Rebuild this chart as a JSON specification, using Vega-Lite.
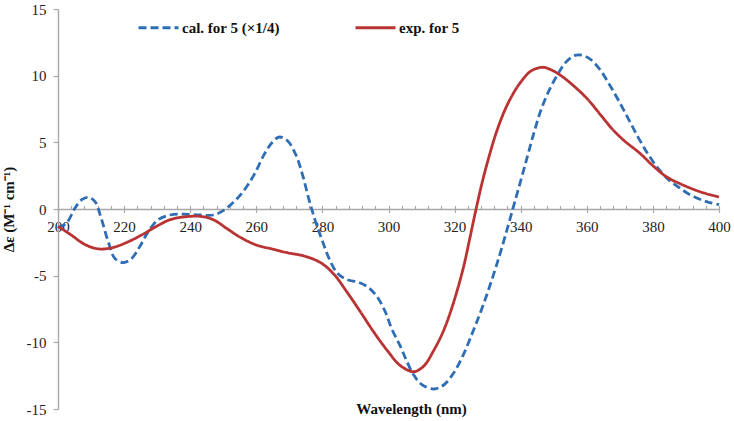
{
  "$schema": "https://vega.github.io/schema/vega-lite/v6.json",
  "description": "CD spectra, calculated and experimental",
  "width": 661,
  "height": 400,
  "autosize": {"type": "none"},
  "padding": {"left": 58, "top": 9, "right": 15, "bottom": 12},
  "background": "white",
  "config": {"view": {"stroke": null}},
  "datasets": {
    "spectra": [
      {"wavelength": 200, "delta": -1.4, "series": "cal. for 5 (×1/4)"},
      {"wavelength": 202.6, "delta": -1.05, "series": "cal. for 5 (×1/4)"},
      {"wavelength": 205.1, "delta": 0.05, "series": "cal. for 5 (×1/4)"},
      {"wavelength": 207.2, "delta": 0.7, "series": "cal. for 5 (×1/4)"},
      {"wavelength": 209.2, "delta": 0.87, "series": "cal. for 5 (×1/4)"},
      {"wavelength": 211.2, "delta": 0.55, "series": "cal. for 5 (×1/4)"},
      {"wavelength": 213.2, "delta": -0.8, "series": "cal. for 5 (×1/4)"},
      {"wavelength": 215.2, "delta": -2.45, "series": "cal. for 5 (×1/4)"},
      {"wavelength": 217.2, "delta": -3.7, "series": "cal. for 5 (×1/4)"},
      {"wavelength": 219.8, "delta": -4.02, "series": "cal. for 5 (×1/4)"},
      {"wavelength": 222.3, "delta": -3.7, "series": "cal. for 5 (×1/4)"},
      {"wavelength": 224.8, "delta": -2.8, "series": "cal. for 5 (×1/4)"},
      {"wavelength": 227.3, "delta": -1.7, "series": "cal. for 5 (×1/4)"},
      {"wavelength": 230.3, "delta": -0.8, "series": "cal. for 5 (×1/4)"},
      {"wavelength": 233.9, "delta": -0.45, "series": "cal. for 5 (×1/4)"},
      {"wavelength": 237.9, "delta": -0.38, "series": "cal. for 5 (×1/4)"},
      {"wavelength": 243, "delta": -0.45, "series": "cal. for 5 (×1/4)"},
      {"wavelength": 247, "delta": -0.45, "series": "cal. for 5 (×1/4)"},
      {"wavelength": 250, "delta": -0.12, "series": "cal. for 5 (×1/4)"},
      {"wavelength": 253, "delta": 0.48, "series": "cal. for 5 (×1/4)"},
      {"wavelength": 256, "delta": 1.3, "series": "cal. for 5 (×1/4)"},
      {"wavelength": 259.4, "delta": 2.6, "series": "cal. for 5 (×1/4)"},
      {"wavelength": 262.4, "delta": 4.1, "series": "cal. for 5 (×1/4)"},
      {"wavelength": 265, "delta": 5.05, "series": "cal. for 5 (×1/4)"},
      {"wavelength": 267, "delta": 5.4, "series": "cal. for 5 (×1/4)"},
      {"wavelength": 269.5, "delta": 5.1, "series": "cal. for 5 (×1/4)"},
      {"wavelength": 272, "delta": 4.05, "series": "cal. for 5 (×1/4)"},
      {"wavelength": 274, "delta": 2.55, "series": "cal. for 5 (×1/4)"},
      {"wavelength": 276, "delta": 0.65, "series": "cal. for 5 (×1/4)"},
      {"wavelength": 278, "delta": -1.0, "series": "cal. for 5 (×1/4)"},
      {"wavelength": 280, "delta": -2.4, "series": "cal. for 5 (×1/4)"},
      {"wavelength": 282, "delta": -3.7, "series": "cal. for 5 (×1/4)"},
      {"wavelength": 284.5, "delta": -4.8, "series": "cal. for 5 (×1/4)"},
      {"wavelength": 287.5, "delta": -5.3, "series": "cal. for 5 (×1/4)"},
      {"wavelength": 291, "delta": -5.5, "series": "cal. for 5 (×1/4)"},
      {"wavelength": 294, "delta": -5.9, "series": "cal. for 5 (×1/4)"},
      {"wavelength": 296.6, "delta": -6.6, "series": "cal. for 5 (×1/4)"},
      {"wavelength": 299, "delta": -7.7, "series": "cal. for 5 (×1/4)"},
      {"wavelength": 301, "delta": -9, "series": "cal. for 5 (×1/4)"},
      {"wavelength": 303.5, "delta": -10.25, "series": "cal. for 5 (×1/4)"},
      {"wavelength": 305.5, "delta": -11.4, "series": "cal. for 5 (×1/4)"},
      {"wavelength": 307.5, "delta": -12.4, "series": "cal. for 5 (×1/4)"},
      {"wavelength": 310, "delta": -13.15, "series": "cal. for 5 (×1/4)"},
      {"wavelength": 313.7, "delta": -13.5, "series": "cal. for 5 (×1/4)"},
      {"wavelength": 316.7, "delta": -13.2, "series": "cal. for 5 (×1/4)"},
      {"wavelength": 319.7, "delta": -12.3, "series": "cal. for 5 (×1/4)"},
      {"wavelength": 322.7, "delta": -10.9, "series": "cal. for 5 (×1/4)"},
      {"wavelength": 325.7, "delta": -9.1, "series": "cal. for 5 (×1/4)"},
      {"wavelength": 328.8, "delta": -7.1, "series": "cal. for 5 (×1/4)"},
      {"wavelength": 331.8, "delta": -4.9, "series": "cal. for 5 (×1/4)"},
      {"wavelength": 334.3, "delta": -2.9, "series": "cal. for 5 (×1/4)"},
      {"wavelength": 337.6, "delta": 0, "series": "cal. for 5 (×1/4)"},
      {"wavelength": 340.1, "delta": 2.2, "series": "cal. for 5 (×1/4)"},
      {"wavelength": 342.1, "delta": 4.0, "series": "cal. for 5 (×1/4)"},
      {"wavelength": 344.1, "delta": 5.8, "series": "cal. for 5 (×1/4)"},
      {"wavelength": 346.1, "delta": 7.4, "series": "cal. for 5 (×1/4)"},
      {"wavelength": 348.6, "delta": 8.9, "series": "cal. for 5 (×1/4)"},
      {"wavelength": 351.1, "delta": 10.05, "series": "cal. for 5 (×1/4)"},
      {"wavelength": 353.6, "delta": 11.0, "series": "cal. for 5 (×1/4)"},
      {"wavelength": 356.2, "delta": 11.5, "series": "cal. for 5 (×1/4)"},
      {"wavelength": 358.2, "delta": 11.55, "series": "cal. for 5 (×1/4)"},
      {"wavelength": 360.7, "delta": 11.3, "series": "cal. for 5 (×1/4)"},
      {"wavelength": 363.7, "delta": 10.55, "series": "cal. for 5 (×1/4)"},
      {"wavelength": 366.7, "delta": 9.4, "series": "cal. for 5 (×1/4)"},
      {"wavelength": 369.7, "delta": 8.1, "series": "cal. for 5 (×1/4)"},
      {"wavelength": 372.7, "delta": 6.7, "series": "cal. for 5 (×1/4)"},
      {"wavelength": 375.7, "delta": 5.3, "series": "cal. for 5 (×1/4)"},
      {"wavelength": 378.7, "delta": 4.05, "series": "cal. for 5 (×1/4)"},
      {"wavelength": 381.7, "delta": 3.0, "series": "cal. for 5 (×1/4)"},
      {"wavelength": 384.7, "delta": 2.2, "series": "cal. for 5 (×1/4)"},
      {"wavelength": 387.7, "delta": 1.65, "series": "cal. for 5 (×1/4)"},
      {"wavelength": 390.7, "delta": 1.15, "series": "cal. for 5 (×1/4)"},
      {"wavelength": 394.2, "delta": 0.73, "series": "cal. for 5 (×1/4)"},
      {"wavelength": 397.2, "delta": 0.48, "series": "cal. for 5 (×1/4)"},
      {"wavelength": 400, "delta": 0.33, "series": "cal. for 5 (×1/4)"},
      {"wavelength": 200, "delta": -1.3, "series": "exp. for 5"},
      {"wavelength": 204, "delta": -1.95, "series": "exp. for 5"},
      {"wavelength": 207.7, "delta": -2.6, "series": "exp. for 5"},
      {"wavelength": 211.2, "delta": -2.95, "series": "exp. for 5"},
      {"wavelength": 213.7, "delta": -3, "series": "exp. for 5"},
      {"wavelength": 217.2, "delta": -2.85, "series": "exp. for 5"},
      {"wavelength": 221.3, "delta": -2.45, "series": "exp. for 5"},
      {"wavelength": 225.3, "delta": -1.95, "series": "exp. for 5"},
      {"wavelength": 229.8, "delta": -1.3, "series": "exp. for 5"},
      {"wavelength": 233.9, "delta": -0.8, "series": "exp. for 5"},
      {"wavelength": 237.9, "delta": -0.6, "series": "exp. for 5"},
      {"wavelength": 243, "delta": -0.55, "series": "exp. for 5"},
      {"wavelength": 247, "delta": -0.8, "series": "exp. for 5"},
      {"wavelength": 251, "delta": -1.45, "series": "exp. for 5"},
      {"wavelength": 255, "delta": -2.1, "series": "exp. for 5"},
      {"wavelength": 260, "delta": -2.7, "series": "exp. for 5"},
      {"wavelength": 264.8, "delta": -3, "series": "exp. for 5"},
      {"wavelength": 269.4, "delta": -3.28, "series": "exp. for 5"},
      {"wavelength": 274.5, "delta": -3.53, "series": "exp. for 5"},
      {"wavelength": 279.5, "delta": -4.03, "series": "exp. for 5"},
      {"wavelength": 283.5, "delta": -4.9, "series": "exp. for 5"},
      {"wavelength": 287.5, "delta": -6.25, "series": "exp. for 5"},
      {"wavelength": 291.6, "delta": -7.75, "series": "exp. for 5"},
      {"wavelength": 295.6, "delta": -9.25, "series": "exp. for 5"},
      {"wavelength": 299.6, "delta": -10.6, "series": "exp. for 5"},
      {"wavelength": 303.6, "delta": -11.75, "series": "exp. for 5"},
      {"wavelength": 307.6, "delta": -12.2, "series": "exp. for 5"},
      {"wavelength": 310.6, "delta": -11.8, "series": "exp. for 5"},
      {"wavelength": 313.7, "delta": -10.6, "series": "exp. for 5"},
      {"wavelength": 316.7, "delta": -9.1, "series": "exp. for 5"},
      {"wavelength": 319.7, "delta": -7.0, "series": "exp. for 5"},
      {"wavelength": 322.7, "delta": -4.35, "series": "exp. for 5"},
      {"wavelength": 324.6, "delta": -2.2, "series": "exp. for 5"},
      {"wavelength": 326.5, "delta": 0, "series": "exp. for 5"},
      {"wavelength": 328.5, "delta": 2.15, "series": "exp. for 5"},
      {"wavelength": 330.5, "delta": 4, "series": "exp. for 5"},
      {"wavelength": 332.5, "delta": 5.65, "series": "exp. for 5"},
      {"wavelength": 335, "delta": 7.3, "series": "exp. for 5"},
      {"wavelength": 337.6, "delta": 8.6, "series": "exp. for 5"},
      {"wavelength": 340.1, "delta": 9.55, "series": "exp. for 5"},
      {"wavelength": 343.1, "delta": 10.35, "series": "exp. for 5"},
      {"wavelength": 346.6, "delta": 10.63, "series": "exp. for 5"},
      {"wavelength": 349.1, "delta": 10.45, "series": "exp. for 5"},
      {"wavelength": 352.2, "delta": 10, "series": "exp. for 5"},
      {"wavelength": 356.2, "delta": 9.2, "series": "exp. for 5"},
      {"wavelength": 360.2, "delta": 8.25, "series": "exp. for 5"},
      {"wavelength": 364.2, "delta": 7.05, "series": "exp. for 5"},
      {"wavelength": 367.7, "delta": 6.0, "series": "exp. for 5"},
      {"wavelength": 371.2, "delta": 5.15, "series": "exp. for 5"},
      {"wavelength": 376.2, "delta": 4.15, "series": "exp. for 5"},
      {"wavelength": 380.2, "delta": 3.2, "series": "exp. for 5"},
      {"wavelength": 384.2, "delta": 2.4, "series": "exp. for 5"},
      {"wavelength": 388.2, "delta": 1.9, "series": "exp. for 5"},
      {"wavelength": 394.2, "delta": 1.3, "series": "exp. for 5"},
      {"wavelength": 400, "delta": 0.9, "series": "exp. for 5"}
    ]
  },
  "data": {"name": "spectra"},
  "layer": [
    {
      "mark": {"type": "line", "opacity": 0},
      "encoding": {
        "x": {
          "field": "wavelength",
          "type": "quantitative",
          "scale": {"domain": [200, 400], "nice": false},
          "axis": {
            "orient": "bottom",
            "offset": -200,
            "values": [200, 204, 208, 212, 216, 220, 224, 228, 232, 236, 240, 244, 248, 252, 256, 260, 264, 268, 272, 276, 280, 284, 288, 292, 296, 300, 304, 308, 312, 316, 320, 324, 328, 332, 336, 340, 344, 348, 352, 356, 360, 364, 368, 372, 376, 380, 384, 388, 392, 396, 400],
            "labels": false,
            "title": null,
            "grid": false,
            "domain": false,
            "tickSize": -3.5,
            "tickColor": "#a8a8a8",
            "tickWidth": 1.2
          }
        },
        "y": {
          "field": "delta",
          "type": "quantitative",
          "scale": {"domain": [-15, 15], "nice": false}
        }
      }
    },
    {
      "mark": {"type": "line", "interpolate": "catmull-rom", "strokeWidth": 2.8},
      "encoding": {
        "x": {
          "field": "wavelength",
          "type": "quantitative",
          "scale": {"domain": [200, 400], "nice": false},
          "axis": {
            "orient": "bottom",
            "offset": -200,
            "values": [200, 220, 240, 260, 280, 300, 320, 340, 360, 380, 400],
            "title": "Wavelength (nm)",
            "titleX": 353,
            "titleY": 204,
            "titleAlign": "center",
            "titleBaseline": "alphabetic",
            "titleFont": "Liberation Serif",
            "titleFontSize": 15,
            "titleFontWeight": "bold",
            "titleColor": "#111111",
            "labelFont": "Liberation Serif",
            "labelFontSize": 15,
            "labelColor": "#222222",
            "labelPadding": 7,
            "labelFlush": false,
            "labelOverlap": false,
            "grid": false,
            "domainColor": "#a8a8a8",
            "domainWidth": 1.4,
            "tickColor": "#a8a8a8",
            "tickWidth": 1.2,
            "tickSize": 3.5
          }
        },
        "y": {
          "field": "delta",
          "type": "quantitative",
          "scale": {"domain": [-15, 15], "nice": false},
          "axis": {
            "values": [-15, -10, -5, 0, 5, 10, 15],
            "labelExpr": "replace(datum.label, '−', '-')",
            "title": "Δε (M⁻¹ cm⁻¹)",
            "titleFont": "Liberation Serif",
            "titleFontSize": 15,
            "titleFontWeight": "bold",
            "titleColor": "#111111",
            "titleX": -42,
            "labelFont": "Liberation Serif",
            "labelFontSize": 15,
            "labelColor": "#222222",
            "labelPadding": 7,
            "grid": false,
            "domainColor": "#a8a8a8",
            "domainWidth": 1.4,
            "tickColor": "#a8a8a8",
            "tickWidth": 1.2,
            "tickSize": 5
          }
        },
        "color": {
          "field": "series",
          "type": "nominal",
          "scale": {"range": ["#2f6eb5", "#b93333"]},
          "legend": {
            "title": null,
            "orient": "none",
            "legendX": 79,
            "legendY": -3,
            "direction": "horizontal",
            "columns": 2,
            "columnPadding": 69,
            "symbolType": "stroke",
            "symbolSize": 1600,
            "symbolStrokeWidth": 2.8,
            "labelFont": "Liberation Serif",
            "labelFontSize": 15,
            "labelFontWeight": "bold",
            "labelColor": "#111111",
            "labelOffset": 2
          }
        },
        "strokeDash": {
          "field": "series",
          "type": "nominal",
          "scale": {"range": [[8, 4], [1, 0]]}
        }
      }
    }
  ],
  "resolve": {"axis": {"x": "independent"}}
}
